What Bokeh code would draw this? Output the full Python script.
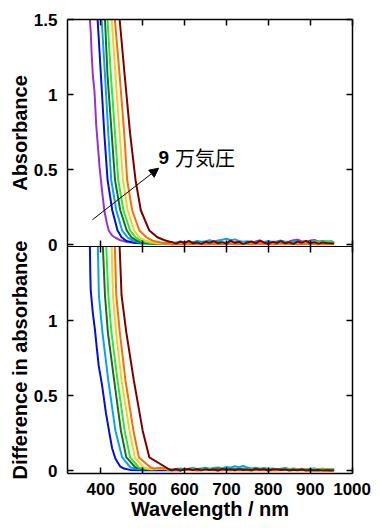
from bokeh.plotting import figure
from bokeh.layouts import column
from bokeh.models import Range1d, LinearAxis, FixedTicker, PrintfTickFormatter, Arrow, NormalHead
from bokeh.core.properties import value
from bokeh.embed import file_html
from bokeh.resources import INLINE

# ---------------- data ----------------
X_TICKS = [300, 400, 500, 600, 700, 800, 900, 1000]
Y_TICKS = [0, 0.5, 1, 1.5]

COLORS_TOP = ["#9932cc", "#0010d8", "#00a8e8", "#1b6b1b", "#2ee82e", "#ffcc22", "#f07010", "#7a0000"]
COLORS_BOT = ["#0010d8", "#00a8e8", "#1b6b1b", "#2ee82e", "#ffcc22", "#f07010", "#7a0000"]

# baseline (noise) region, 10 nm grid
NOISE_LAM = [570, 580, 590, 600, 610, 620, 630, 640, 650, 660,
             670, 680, 690, 700, 710, 720, 730, 740, 750, 760,
             770, 780, 790, 800, 810, 820, 830, 840, 850, 860,
             870, 880, 890, 900, 910, 920, 930, 940, 950, 957]

# --- upper panel: absorbance ---
TOP_PURPLE_LAM = [372, 374, 376, 378, 381, 385, 389, 393, 397, 401, 405, 409, 414, 419, 427, 435, 447, 463, 490, 520, 545]
TOP_PURPLE_ABS = [1.60, 1.50, 1.42, 1.28, 1.13, 1.02, 0.80, 0.66, 0.52, 0.41, 0.31, 0.22, 0.15, 0.095, 0.062, 0.047, 0.030, 0.018, 0.012, 0.010, 0.009]
TOP_LEVELS = [1.60, 1.50, 1.13, 0.74, 0.43, 0.23, 0.095, 0.05, 0.025, 0.012, 0.009, 0.008]
TOP_BLUE_LAM = [391, 392.4, 400.3, 408.4, 416.2, 427.4, 440, 449.6, 461.5, 483, 515, 545]
TOP_LBLUE_LAM = [401, 402, 410, 418, 425, 437, 451, 464, 478, 500, 525, 550]
TOP_DGREEN_LAM = [409, 410, 416, 426, 434, 446.5, 462, 473, 488, 509, 535, 555]
TOP_GREEN_LAM = [415, 416, 424, 434, 441.7, 454, 470, 483, 497, 519, 540, 556]
TOP_YELLOW_LAM = [425, 426, 435, 445, 453, 464, 480, 492, 509, 533, 550, 560]
TOP_ORANGE_LAM = [432, 433.6, 445, 456, 463, 475, 492, 509, 526, 550, 558, 563]
TOP_MAROON_LAM = [444, 445, 457, 470, 483, 495.5, 516, 535, 554, 565]
TOP_MAROON_ABS = [1.60, 1.50, 1.13, 0.74, 0.43, 0.23, 0.095, 0.05, 0.029, 0.02]

TOP_NOISE_PURPLE = [0.010, 0.014, 0.008, 0.012, 0.016, 0.010, 0.013, 0.009, 0.015, 0.011,
                    0.014, 0.018, 0.012, 0.016, 0.010, 0.014, 0.019, 0.013, 0.017, 0.012,
                    0.022, 0.030, 0.018, 0.024, 0.016, 0.020, 0.026, 0.018, 0.022, 0.030,
                    0.034, 0.024, 0.020, 0.028, 0.032, 0.022, 0.026, 0.018, 0.024, 0.016]
TOP_NOISE_BLUE = [0.008, 0.011, 0.009, 0.013, 0.010, 0.012, 0.015, 0.011, 0.009, 0.013,
                  0.010, 0.014, 0.012, 0.009, 0.011, 0.015, 0.012, 0.010, 0.013, 0.016,
                  0.011, 0.009, 0.012, 0.014, 0.010, 0.013, 0.011, 0.015, 0.012, 0.010,
                  0.014, 0.011, 0.013, 0.009, 0.012, 0.015, 0.011, 0.013, 0.010, 0.009]
TOP_NOISE_LBLUE = [0.012, 0.016, 0.020, 0.014, 0.022, 0.018, 0.026, 0.020, 0.024, 0.030,
                   0.022, 0.028, 0.034, 0.040, 0.030, 0.036, 0.026, 0.020, 0.024, 0.018,
                   0.014, 0.020, 0.016, 0.024, 0.018, 0.022, 0.028, 0.020, 0.016, 0.022,
                   0.026, 0.018, 0.014, 0.020, 0.024, 0.016, 0.022, 0.018, 0.014, 0.012]
TOP_NOISE_DGREEN = [0.006, 0.010, 0.008, 0.012, 0.009, 0.013, 0.010, 0.014, 0.011, 0.008,
                    0.012, 0.015, 0.010, 0.013, 0.009, 0.012, 0.016, 0.011, 0.014, 0.010,
                    0.013, 0.017, 0.012, 0.015, 0.010, 0.014, 0.018, 0.012, 0.016, 0.011,
                    0.014, 0.019, 0.013, 0.016, 0.012, 0.015, 0.011, 0.014, 0.012, 0.010]
TOP_NOISE_GREEN = [0.005, 0.009, 0.007, 0.011, 0.008, 0.012, 0.009, 0.007, 0.010, 0.013,
                   0.009, 0.012, 0.008, 0.011, 0.014, 0.010, 0.013, 0.009, 0.012, 0.015,
                   0.011, 0.014, 0.010, 0.016, 0.012, 0.015, 0.019, 0.013, 0.017, 0.012,
                   0.016, 0.021, 0.015, 0.019, 0.024, 0.018, 0.022, 0.026, 0.020, 0.016]
TOP_NOISE_YELLOW = [0.004, 0.008, 0.006, 0.010, 0.007, 0.009, 0.012, 0.008, 0.011, 0.007,
                    0.010, 0.013, 0.009, 0.011, 0.008, 0.012, 0.010, 0.014, 0.009, 0.011,
                    0.008, 0.012, 0.010, 0.013, 0.009, 0.011, 0.014, 0.010, 0.012, 0.008,
                    0.011, 0.013, 0.009, 0.012, 0.015, 0.010, 0.012, 0.009, 0.011, 0.008]
TOP_NOISE_ORANGE = [0.002, 0.005, 0.003, 0.006, 0.004, 0.007, 0.005, 0.003, 0.006, 0.004,
                    0.007, 0.005, 0.003, 0.006, 0.008, 0.004, 0.006, 0.005, 0.007, 0.004,
                    0.006, 0.008, 0.005, 0.007, 0.004, 0.006, 0.009, 0.005, 0.007, 0.006,
                    0.004, 0.007, 0.005, 0.008, 0.006, 0.004, 0.007, 0.005, 0.006, 0.005]
TOP_NOISE_MAROON = [0.018, 0.008, 0.022, 0.012, 0.026, 0.010, 0.016, 0.006, 0.020, 0.014,
                    0.024, 0.010, 0.018, 0.008, 0.028, 0.012, 0.020, 0.006, 0.016, 0.022,
                    0.010, 0.026, 0.014, 0.008, 0.020, 0.012, 0.024, 0.010, 0.018, 0.006,
                    0.022, 0.014, 0.026, 0.010, 0.018, 0.008, 0.016, 0.012, 0.010, 0.008]

# --- lower panel: difference in absorbance ---
BOT_BLUE_LAM = [373, 374, 375, 376, 378, 381, 386, 390, 395, 403, 412, 420, 427, 435, 446, 455, 470, 500, 540, 560]
BOT_BLUE_ABS = [1.60, 1.49, 1.30, 1.20, 1.14, 1.05, 0.94, 0.83, 0.70, 0.57, 0.39, 0.26, 0.15, 0.08, 0.03, 0.015, 0.006, 0.003, 0.004, 0.004]
BOT_LEVELS = [1.60, 1.49, 1.167, 0.92, 0.60, 0.267, 0.089, 0.022, 0.010, 0.012, 0.014, 0.008]
BOT_LBLUE_LAM = [392, 393, 395.5, 404, 418, 435, 451, 471, 495, 525, 545, 560]
BOT_DGREEN_LAM = [404, 405, 410, 417, 432, 448, 461, 483, 505, 535, 548, 560]
BOT_GREEN_LAM = [412, 413, 418, 425.5, 440, 457, 470, 491, 515, 540, 552, 562]
BOT_YELLOW_LAM = [425, 426, 429, 436.5, 449.6, 468.6, 481, 503, 520, 538, 550, 563]
BOT_ORANGE_LAM = [432, 433.6, 437, 445.5, 459, 478, 491, 519, 528, 540, 552, 564]
BOT_ORANGE_ABS = [1.60, 1.49, 1.167, 0.92, 0.60, 0.267, 0.089, 0.022, 0.015, 0.018, 0.016, 0.009]
BOT_MAROON_LAM = [444, 445, 449.6, 461, 479, 500, 516, 556, 566]
BOT_MAROON_ABS = [1.60, 1.49, 1.167, 0.92, 0.60, 0.267, 0.089, 0.022, 0.005]

BOT_NOISE_BLUE = [0.003, 0.006, 0.004, 0.008, 0.005, 0.007, 0.004, 0.006, 0.009, 0.005,
                  0.007, 0.004, 0.008, 0.006, 0.003, 0.007, 0.005, 0.009, 0.006, 0.004,
                  0.008, 0.005, 0.007, 0.004, 0.006, 0.009, 0.005, 0.007, 0.004, 0.006,
                  0.008, 0.005, 0.007, 0.003, 0.006, 0.004, 0.007, 0.005, 0.004, 0.003]
BOT_NOISE_LBLUE = [0.008, 0.012, 0.016, 0.010, 0.014, 0.018, 0.012, 0.016, 0.020, 0.014,
                   0.018, 0.022, 0.016, 0.026, 0.020, 0.030, 0.024, 0.032, 0.022, 0.016,
                   0.020, 0.014, 0.018, 0.012, 0.016, 0.010, 0.014, 0.018, 0.012, 0.016,
                   0.010, 0.014, 0.008, 0.012, 0.016, 0.010, 0.013, 0.009, 0.011, 0.008]
BOT_NOISE_DGREEN = [0.005, 0.008, 0.006, 0.010, 0.007, 0.009, 0.012, 0.008, 0.011, 0.007,
                    0.010, 0.013, 0.009, 0.011, 0.008, 0.012, 0.010, 0.014, 0.009, 0.011,
                    0.008, 0.012, 0.010, 0.013, 0.009, 0.011, 0.008, 0.010, 0.007, 0.009,
                    0.006, 0.010, 0.008, 0.011, 0.007, 0.009, 0.006, 0.008, 0.005, 0.006]
BOT_NOISE_GREEN = [0.004, 0.007, 0.005, 0.009, 0.006, 0.008, 0.005, 0.007, 0.010, 0.006,
                   0.008, 0.005, 0.009, 0.007, 0.011, 0.006, 0.009, 0.007, 0.010, 0.008,
                   0.006, 0.009, 0.007, 0.011, 0.008, 0.010, 0.006, 0.009, 0.012, 0.008,
                   0.010, 0.007, 0.012, 0.009, 0.013, 0.010, 0.014, 0.011, 0.012, 0.010]
BOT_NOISE_YELLOW = [0.003, 0.006, 0.004, 0.007, 0.005, 0.008, 0.004, 0.006, 0.005, 0.007,
                    0.004, 0.006, 0.008, 0.005, 0.007, 0.004, 0.006, 0.005, 0.007, 0.004,
                    0.006, 0.005, 0.007, 0.004, 0.006, 0.008, 0.005, 0.007, 0.004, 0.006,
                    0.005, 0.007, 0.004, 0.006, 0.005, 0.004, 0.006, 0.005, 0.004, 0.004]
BOT_NOISE_ORANGE = [0.008, 0.006, 0.004, 0.007, 0.005, 0.003, 0.006, 0.004, 0.007, 0.005,
                    0.003, 0.006, 0.004, 0.005, 0.007, 0.004, 0.006, 0.003, 0.005, 0.004,
                    0.006, 0.004, 0.005, 0.003, 0.006, 0.004, 0.005, 0.007, 0.004, 0.003,
                    0.005, 0.004, 0.006, 0.003, 0.005, 0.004, 0.003, 0.005, 0.004, 0.003]
BOT_NOISE_MAROON = [0.004, 0.010, 0.002, 0.008, 0.012, 0.005, 0.010, 0.003, 0.011, 0.006,
                    0.009, 0.002, 0.012, 0.007, 0.010, 0.004, 0.011, 0.006, 0.009, 0.003,
                    0.012, 0.007, 0.010, 0.002, 0.008, 0.011, 0.005, 0.009, 0.003, 0.007,
                    0.004, 0.008, 0.002, 0.006, 0.003, 0.005, 0.002, 0.004, 0.002, 0.003]

ANNOT_ARROW_START = (380, 0.167)
ANNOT_ARROW_END = (538, 0.51)
ANNOT_NUM_POS = (537.7, 0.58)
ANNOT_JP_POS = (577, 0.58)

TOP_SERIES = [
    (TOP_PURPLE_LAM, TOP_PURPLE_ABS, TOP_NOISE_PURPLE),
    (TOP_BLUE_LAM, TOP_LEVELS, TOP_NOISE_BLUE),
    (TOP_LBLUE_LAM, TOP_LEVELS, TOP_NOISE_LBLUE),
    (TOP_DGREEN_LAM, TOP_LEVELS, TOP_NOISE_DGREEN),
    (TOP_GREEN_LAM, TOP_LEVELS, TOP_NOISE_GREEN),
    (TOP_YELLOW_LAM, TOP_LEVELS, TOP_NOISE_YELLOW),
    (TOP_ORANGE_LAM, TOP_LEVELS, TOP_NOISE_ORANGE),
    (TOP_MAROON_LAM, TOP_MAROON_ABS, TOP_NOISE_MAROON),
]
BOT_SERIES = [
    (BOT_BLUE_LAM, BOT_BLUE_ABS, BOT_NOISE_BLUE),
    (BOT_LBLUE_LAM, BOT_LEVELS, BOT_NOISE_LBLUE),
    (BOT_DGREEN_LAM, BOT_LEVELS, BOT_NOISE_DGREEN),
    (BOT_GREEN_LAM, BOT_LEVELS, BOT_NOISE_GREEN),
    (BOT_YELLOW_LAM, BOT_LEVELS, BOT_NOISE_YELLOW),
    (BOT_ORANGE_LAM, BOT_ORANGE_ABS, BOT_NOISE_ORANGE),
    (BOT_MAROON_LAM, BOT_MAROON_ABS, BOT_NOISE_MAROON),
]

# ---------------- styling ----------------
FONT = "Liberation Sans"
BG = "#ffffff"
W = 372


def style_axis(ax, labels, ticks, label_text=None, size="17px"):
    ax.ticker = FixedTicker(ticks=ticks)
    ax.axis_line_color = "black"
    ax.axis_line_width = 1.5
    ax.major_tick_line_color = "black"
    ax.major_tick_line_width = 1.5
    ax.major_tick_in = 6
    ax.major_tick_out = 0
    ax.minor_tick_in = 0
    ax.minor_tick_out = 0
    if labels:
        ax.formatter = PrintfTickFormatter(format="%g")
        ax.major_label_text_font = FONT
        ax.major_label_text_font_style = "bold"
        ax.major_label_text_font_size = size
        ax.major_label_text_color = "black"
    else:
        ax.major_label_text_font_size = "1px"
        ax.major_label_text_color = None
        ax.major_label_standoff = 0
    if label_text:
        ax.axis_label = label_text
        ax.axis_label_text_font = FONT
        ax.axis_label_text_font_style = "bold"
        ax.axis_label_text_font_size = "20px"
        ax.axis_label_text_color = "black"


def make_fig(height, y0, y1, top, bottom):
    p = figure(width=W, height=height, output_backend="svg", toolbar_location=None,
               x_range=Range1d(320.5, 1001), y_range=Range1d(y0, y1),
               x_axis_location=None, y_axis_location=None,
               min_border_left=67, min_border_right=20,
               min_border_top=top, min_border_bottom=bottom)
    p.xgrid.visible = False
    p.ygrid.visible = False
    p.outline_line_color = None
    p.background_fill_color = BG
    p.border_fill_color = BG
    return p


def draw(p, series, colors):
    for (lam, a, noise), c in zip(series, colors):
        xs = list(lam) + NOISE_LAM
        ys = list(a[:len(lam)]) + list(noise[:len(NOISE_LAM)])
        n = min(len(xs), len(ys))
        p.line(xs[:n], ys[:n], line_color=c, line_width=2)


# upper figure: frame 227 px tall, 8 px spare below so the "0" label is not clipped
p1 = make_fig(19 + 227 + 8, -0.0113, 1.5, 19, 8)
ax = LinearAxis(); style_axis(ax, True, Y_TICKS, "Absorbance")
ax.major_label_standoff = 10; ax.axis_label_standoff = 0
p1.add_layout(ax, "left")
ax = LinearAxis(); style_axis(ax, False, Y_TICKS); p1.add_layout(ax, "right")
ax = LinearAxis(); style_axis(ax, False, X_TICKS); p1.add_layout(ax, "above")
ax = LinearAxis(); style_axis(ax, False, X_TICKS); ax.axis_line_width = 1; p1.add_layout(ax, "below")

draw(p1, TOP_SERIES, COLORS_TOP)

p1.add_layout(Arrow(end=NormalHead(size=9, fill_color="black", line_color="black", line_width=1),
                    x_start=ANNOT_ARROW_START[0], y_start=ANNOT_ARROW_START[1],
                    x_end=ANNOT_ARROW_END[0], y_end=ANNOT_ARROW_END[1],
                    line_color="black", line_width=1))
p1.text(x=[ANNOT_NUM_POS[0]], y=[ANNOT_NUM_POS[1]], text=["9"], text_font=value(FONT),
        text_font_style="bold", text_font_size="19px", text_color="black",
        text_baseline="alphabetic", text_align="left")
p1.text(x=[ANNOT_JP_POS[0]], y=[ANNOT_JP_POS[1]], text=["万気圧"], text_font=value("Noto Sans CJK JP"),
        text_font_size="20px", text_color="black",
        text_baseline="alphabetic", text_align="left")

# lower figure: transparent border, pulled up so its frame starts at the upper frame's bottom
p2 = make_fig(8 + 227 + 50, -0.018, 1.493, 8, 50)
p2.border_fill_color = None
p2.margin = (-16, 0, 0, 0)
ax = LinearAxis(); style_axis(ax, True, Y_TICKS, "Difference in absorbance")
ax.major_label_standoff = 10; ax.axis_label_standoff = 0
p2.add_layout(ax, "left")
ax = LinearAxis(); style_axis(ax, False, Y_TICKS); p2.add_layout(ax, "right")
ax = LinearAxis(); style_axis(ax, False, X_TICKS); ax.axis_line_width = 1; p2.add_layout(ax, "above")
ax = LinearAxis(); style_axis(ax, True, X_TICKS, "Wavelength / nm")
ax.major_label_standoff = 9; ax.axis_label_standoff = 0
p2.add_layout(ax, "below")

draw(p2, BOT_SERIES, COLORS_BOT)

layout = column(p1, p2, spacing=0)
open("out.html", "w").write(file_html(layout, INLINE))
